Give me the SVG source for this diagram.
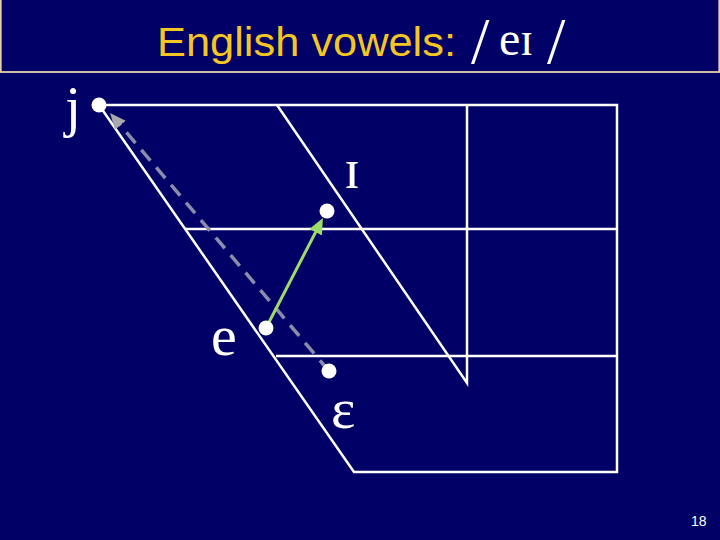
<svg xmlns="http://www.w3.org/2000/svg" width="720" height="540" viewBox="0 0 720 540">
<style>
.grid{stroke:#ffffff;stroke-width:2.5;fill:none}
.dot{fill:#ffffff}
.lbl{font-family:"Liberation Serif","Times New Roman",serif;font-size:58px;fill:#ffffff}
.title{font-family:"Liberation Sans",Arial,sans-serif;font-size:41px;fill:#f5c623}
.ipa{font-family:"Liberation Serif","Times New Roman",serif;fill:#ffffff}
</style>
<defs>
<marker id="ahG" markerUnits="userSpaceOnUse" markerWidth="16" markerHeight="14" refX="8" refY="7" orient="auto">
<path d="M0,0 L16,7 L0,14 z" fill="#9edc6a"/>
</marker>
<marker id="ahK" markerUnits="userSpaceOnUse" markerWidth="16" markerHeight="14" refX="8" refY="7" orient="auto">
<path d="M0,0 L16,7 L0,14 z" fill="#a8a8ae"/>
</marker>
</defs>
<rect width="720" height="540" fill="#000066"/>
<rect x="0.75" y="-2" width="718.5" height="74" fill="none" stroke="#e6cfa6" stroke-width="1.8"/>
<g id="title">
<text class="title" x="157" y="56" textLength="299" lengthAdjust="spacingAndGlyphs">English vowels:</text>
<text class="ipa" x="471" y="63" font-size="66">/</text>
<text class="ipa" x="499" y="55" font-size="48">e</text>
<text class="ipa" x="520" y="55" font-size="48">ɪ</text>
<text class="ipa" x="547" y="63" font-size="66">/</text>
</g>
<g id="chart">
<polyline class="grid" points="99,105 617,105 617,472 354,472 99,105"/>
<polyline class="grid" points="277,105 467,383 467,105"/>
<line class="grid" x1="185" y1="229" x2="617" y2="229"/>
<line class="grid" x1="276" y1="356" x2="617" y2="356"/>
</g>
<g id="connectors">
<line x1="329" y1="371" x2="115.2" y2="119.1" stroke="#8c8cac" stroke-width="3.5" stroke-dasharray="14,9" marker-end="url(#ahK)"/>
<line x1="266" y1="328" x2="319.3" y2="225.1" stroke="#9edc6a" stroke-width="3" marker-end="url(#ahG)"/>
</g>
<g id="node-j">
<circle class="dot" cx="99" cy="105" r="7.5"/>
<text class="lbl" x="65" y="126">j</text>
</g>
<g id="node-I">
<circle class="dot" cx="327" cy="211" r="7.5"/>
<text class="lbl" x="344" y="188">ɪ</text>
</g>
<g id="node-e">
<circle class="dot" cx="266" cy="328" r="7.5"/>
<text class="lbl" x="211" y="355">e</text>
</g>
<g id="node-epsilon">
<circle class="dot" cx="329" cy="371" r="7.5"/>
<text class="lbl" x="331" y="428">ɛ</text>
</g>
<text x="691" y="526" font-family="'Liberation Sans',Arial,sans-serif" font-size="14" fill="#ffffff">18</text>
</svg>
